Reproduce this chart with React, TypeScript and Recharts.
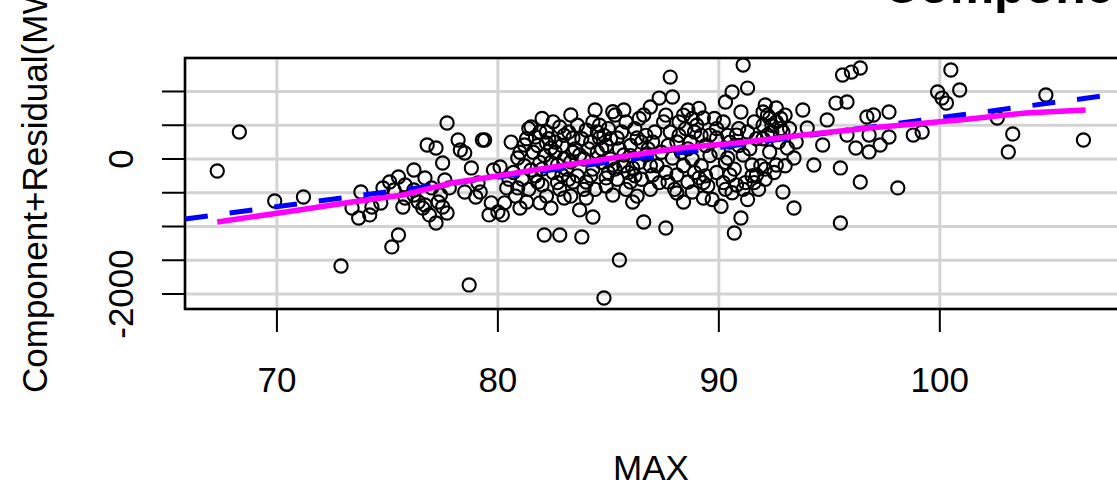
import { CartesianGrid, ReferenceArea, Scatter, ScatterChart, XAxis, YAxis } from "recharts";

const FONT = '"Liberation Sans", Arial, sans-serif';

const xTicks = [70, 80, 90, 100];
const yTicks = [-2000, -1500, -1000, -500, 0, 500, 1000];
const yLabelled = [-2000, 0];
const xDomain = [65.84, 108.2];
const yDomain = [-2222, 1496];

// MAX, component+residual
const leftPoints: [number, number][] = [
  [67.3, -178], [68.3, 400], [69.9, -622], [71.2, -563], [72.9, -1585], [73.7, -874],
  [73.8, -489], [73.4, -726], [74.2, -829], [74.3, -711], [74.8, -429], [74.7, -652],
  [75.2, -1303], [75.5, -1126], [75.1, -341], [75.5, -267], [75.7, -711], [75.8, -578],
  [76.2, -163], [76.2, -533], [76.4, -637], [76.6, -726], [76.8, 207], [76.7, -281],
  [77.0, -429], [77.2, 163], [77.3, -637], [77.2, -948], [77.5, -59], [77.5, -711],
  [77.7, 533], [77.7, -800], [77.8, -429], [78.2, 281], [78.3, 133], [78.5, 89],
  [78.5, -489], [78.7, -1866], [78.8, -133], [79.0, -563], [79.3, 281], [79.1, -355],
  [76.2, -459], [76.7, -681], [76.9, -829], [77.4, -533], [75.8, -385], [75.3, -459],
  [77.6, -311],
];

const midPoints: [number, number][] = [
  [79.4, 281], [79.2, -489], [79.8, -163], [80.1, -118], [79.6, -829], [80.0, -785],
  [80.2, -829], [80.4, -429], [80.9, 15], [81.0, -726], [81.3, -637], [80.9, -429],
  [81.2, 207], [81.5, 474], [81.7, 326], [81.9, 400], [81.5, -163], [81.8, -341],
  [82.0, -385], [82.4, -726], [82.1, -1126], [82.8, -1126], [82.2, 237], [82.4, 163],
  [82.8, 474], [82.7, -89], [82.9, -237], [83.0, -578], [83.3, 652], [83.4, 311],
  [83.4, -341], [83.7, 59], [83.7, -755], [83.8, -1155], [84.0, 429], [84.2, 252],
  [84.0, -578], [84.3, -859], [84.4, 726], [84.5, 400], [84.5, 104], [84.6, 311],
  [84.8, -2059], [84.9, -281], [85.2, -533], [85.3, 652], [85.4, 311], [85.5, -1496],
  [85.7, 726], [85.7, 59], [85.8, 548], [86.0, -341], [86.1, -637], [86.3, 311],
  [86.6, -933], [86.6, 652], [86.7, 59], [86.9, 770], [87.0, -237], [87.3, 903],
  [87.6, -1022], [87.8, 1214], [87.8, 400], [87.9, 15], [88.1, -504], [87.7, -341],
  [86.1, -133], [87.0, 252], [85.2, -89], [83.3, -44], [84.0, -341],
];

const midCluster: [number, number][] = [
  [81.6, 100], [81.9, -50], [82.1, 50], [82.3, 300], [82.5, -200], [82.6, 100],
  [82.9, 200], [83.1, -150], [83.2, 400], [83.5, 150], [83.6, -250], [83.9, 0],
  [84.1, 150], [84.3, -150], [84.6, 500], [84.7, -50], [84.9, 200], [85.0, 450],
  [85.1, 0], [85.4, -300], [85.5, 150], [85.6, 400], [85.9, -200], [86.0, 200],
  [86.2, 450], [86.4, -50], [86.5, -300], [86.8, 150], [86.9, -450], [87.1, 400],
  [87.2, -100], [87.4, 100], [87.5, 550], [87.6, -200], [83.0, 350], [82.0, 600],
  [81.3, 300], [80.7, -200], [80.5, -300], [81.1, -300], [85.8, -450], [86.3, -550],
  [84.4, -450], [83.6, 500], [82.5, 550], [84.8, 350], [86.7, 350], [85.0, -200],
];

const rightPoints: [number, number][] = [
  [91.1, 1392], [87.9, 918], [88.6, 726], [88.2, 548], [88.9, 400], [89.3, 607],
  [88.1, 252], [88.7, 252], [89.6, 355], [88.1, -237], [88.6, -341], [89.1, -281],
  [88.4, -637], [89.3, -578], [88.8, -489], [90.3, 844], [90.6, 992], [91.3, 1051],
  [90.2, 548], [91.0, 696], [89.9, 311], [90.8, 355], [90.4, 15], [91.1, 59],
  [90.5, -237], [90.8, -385], [91.5, -89], [91.7, -237], [91.0, -874], [90.7, -1096],
  [92.0, 696], [92.3, 607], [92.6, 755], [92.2, 355], [92.9, 400], [92.3, 104],
  [92.6, -89], [92.9, -489], [93.4, -726], [93.1, 163], [93.4, 15], [93.5, 252],
  [93.8, 726], [94.0, 459], [94.3, -89], [94.7, 207], [94.9, 578], [95.3, 829],
  [95.8, 844], [95.6, 1244], [96.0, 1288], [96.4, 1348], [95.5, -133], [95.5, -948],
  [96.2, 163], [96.4, -341], [95.8, 355], [96.7, 622], [97.0, 652], [97.7, 696],
  [96.8, 355], [97.7, 326], [97.3, 207], [96.8, 104], [98.1, -429], [98.8, 355],
  [99.2, 400], [99.9, 992], [100.1, 903], [100.3, 829], [100.5, 1318], [100.9, 1022],
  [102.6, 607], [103.3, 370], [103.1, 104], [104.8, 948], [106.5, 281],
];

const rightCluster: [number, number][] = [
  [88.3, 100], [88.5, 450], [88.8, 0], [89.0, 500], [89.2, -100], [89.4, 200],
  [89.5, -400], [89.8, 600], [89.9, -200], [90.0, 100], [90.3, -50], [90.5, 250],
  [90.6, -500], [90.9, 450], [91.2, -350], [91.4, 150], [91.6, 550], [91.8, -450],
  [92.0, 300], [92.1, -300], [92.4, 500], [92.5, -200], [92.7, 250], [92.8, 600],
  [93.0, -100], [93.2, 450], [88.4, -100], [89.7, -600], [90.1, -700], [91.3, -600],
  [89.1, 750], [92.1, 800],
];

const coreCluster: [number, number][] = [
  [81.0, 100], [81.2, -100], [81.4, 450], [81.7, -250], [81.8, 200], [82.0, -150],
  [82.2, 400], [82.4, -50], [82.6, 250], [82.7, -350], [83.0, 0], [83.2, -300],
  [83.4, 100], [83.8, 300], [84.2, -250], [84.3, 550], [84.7, 150], [85.1, 300],
  [85.3, -150], [85.7, -100], [86.0, 50], [86.2, -250], [86.5, 250], [86.9, -100],
  [87.3, -350], [87.7, 200], [88.0, -450], [88.2, 350], [88.6, 150], [88.9, -200],
  [89.2, 350], [89.4, -250], [89.6, 50], [89.9, 450], [90.2, -350], [90.4, 350],
  [90.7, -150], [90.9, 200], [91.1, -450], [91.3, 400], [91.5, -250], [91.7, 300],
  [91.9, -100], [92.0, 500], [92.2, 650], [92.4, 400], [92.6, 550], [92.8, 450],
  [93.0, 650], [92.1, -150], [91.6, -350], [90.3, -450], [89.3, -350], [88.8, 600],
  [88.4, 650], [87.6, 650], [86.4, 600], [85.2, 700], [84.9, -400], [83.9, -450],
  [83.3, -550], [82.8, -450], [82.2, -550], [81.4, -450], [80.8, -550], [80.3, -650],
  [79.7, -650], [80.6, 250], [81.9, -650],
];

// least-squares line (blue, dashed) read at the plot edges
const fitMax = [65.84, 108.2];
const fitRes = [-889, 970];

// lowess smooth (magenta)
const lowessMax = [67.3, 70.4, 73.4, 75.7, 77.9, 79.4, 82.2, 85.2, 88.2, 90.8, 93.8, 96.8, 100.9, 103.9, 106.6];
const lowessRes = [-933, -785, -637, -533, -355, -281, -133, 15, 163, 237, 355, 459, 578, 681, 726];

const points = [
  ...leftPoints,
  ...midPoints,
  ...midCluster,
  ...rightPoints,
  ...rightCluster,
  ...coreCluster,
].map(([x, y]) => ({ x, y }));
const fitData = fitMax.map((x, i) => ({ x, y: fitRes[i] }));
const lowessData = lowessMax.map((x, i) => ({ x, y: lowessRes[i] }));

const Ring = (p: any) => (
  <circle cx={p.cx} cy={p.cy} r={6.6} fill="none" stroke="#000" strokeWidth={2.1} />
);
const NoDot = () => <g />;

const XTick = (p: any) => (
  <text x={p.x} y={392} textAnchor="middle" fontSize={35} fontFamily={FONT} fill="#000">
    {p.payload.value}
  </text>
);

const YTick = (p: any) => {
  const v = p.payload.value;
  if (!yLabelled.includes(v)) return <g />;
  return (
    <text
      x={133}
      y={p.y}
      transform={`rotate(-90, 133, ${p.y})`}
      textAnchor="middle"
      fontSize={35}
      fontFamily={FONT}
      fill="#000"
    >
      {v}
    </text>
  );
};

export default function App() {
  return (
    <div
      style={{
        position: "absolute",
        left: 0,
        top: 0,
        width: 1117,
        height: 489,
        overflow: "hidden",
        background: "#fff",
      }}
    >
      <ScatterChart width={1125} height={489} margin={{ top: 58, right: 4, bottom: 120, left: 125 }}>
        <CartesianGrid stroke="#d3d3d3" strokeWidth={3} />
        <XAxis
          type="number"
          dataKey="x"
          domain={xDomain}
          ticks={xTicks}
          allowDataOverflow
          height={60}
          axisLine={false}
          tickLine={{ stroke: "#000", strokeWidth: 2 }}
          tickSize={23}
          tick={XTick}
        />
        <YAxis
          type="number"
          dataKey="y"
          domain={yDomain}
          ticks={yTicks}
          allowDataOverflow
          width={60}
          axisLine={false}
          tickLine={{ stroke: "#000", strokeWidth: 2 }}
          tickSize={23}
          tick={YTick}
        />
        <Scatter data={points} shape={Ring} isAnimationActive={false} />
        <Scatter
          data={fitData}
          shape={NoDot}
          line={{ stroke: "#0000ff", strokeWidth: 5, strokeDasharray: "23 22" }}
          isAnimationActive={false}
        />
        <Scatter
          data={lowessData}
          shape={NoDot}
          line={{ stroke: "#ff00ff", strokeWidth: 5.5 }}
          isAnimationActive={false}
        />
        <ReferenceArea
          x1={xDomain[0]}
          x2={xDomain[1]}
          y1={yDomain[0]}
          y2={yDomain[1]}
          fill="none"
          fillOpacity={0}
          stroke="#000"
          strokeWidth={2.5}
          ifOverflow="visible"
        />
      </ScatterChart>
      <svg
        width={1117}
        height={489}
        style={{ position: "absolute", left: 0, top: 0, pointerEvents: "none" }}
      >
        <text x={883} y={3} fontSize={50} fontWeight="bold" fontFamily={FONT} fill="#000">
          Component + Residual Plot
        </text>
        <text x={651} y={480} textAnchor="middle" fontSize={35} fontFamily={FONT} fill="#000">
          MAX
        </text>
        <text
          x={47}
          y={393}
          transform="rotate(-90, 47, 393)"
          fontSize={35}
          fontFamily={FONT}
          fill="#000"
        >
          Component+Residual(MW)
        </text>
      </svg>
    </div>
  );
}
